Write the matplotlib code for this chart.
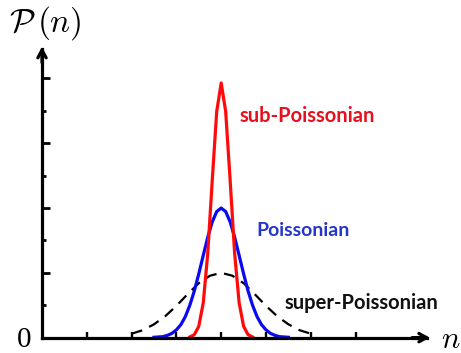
import matplotlib
matplotlib.use("Agg")
import matplotlib.pyplot as plt

plt.rcParams["mathtext.fontset"] = "cm"

# photon-number distributions around the same mean (n = 4)
sub_n = [3.3, 3.4, 3.5, 3.6, 3.7, 3.8, 3.9, 4.0, 4.1, 4.2, 4.3, 4.4, 4.5, 4.6, 4.7]
sub_p = [0.02, 0.09, 0.35, 1.08, 2.60, 4.85, 6.98, 7.86, 6.98, 4.85, 2.60, 1.08, 0.35, 0.09, 0.02]

poi_n = [2.5, 2.6, 2.7, 2.8, 2.9, 3.0, 3.1, 3.2, 3.3, 3.4, 3.5, 3.6, 3.7, 3.8, 3.9, 4.0,
         4.1, 4.2, 4.3, 4.4, 4.5, 4.6, 4.7, 4.8, 4.9, 5.0, 5.1, 5.2, 5.3, 5.4, 5.5]
poi_p = [0.01, 0.02, 0.03, 0.07, 0.13, 0.24, 0.40, 0.65, 1.00, 1.44, 1.97, 2.54, 3.10, 3.57, 3.89, 4.00,
         3.89, 3.57, 3.10, 2.54, 1.97, 1.44, 1.00, 0.65, 0.40, 0.24, 0.13, 0.07, 0.03, 0.02, 0.01]

sup_n = [2.0, 2.25, 2.5, 2.75, 3.0, 3.25, 3.5, 3.75, 4.0, 4.25, 4.5, 4.75, 5.0, 5.25, 5.5, 5.75, 6.0]
sup_p = [0.12, 0.23, 0.41, 0.66, 0.98, 1.34, 1.68, 1.91, 2.00, 1.91, 1.68, 1.34, 0.98, 0.66, 0.41, 0.23, 0.12]

x_ticks = [1, 2, 3, 4, 5, 6, 7]
y_major = [2, 4, 6, 8]
y_minor = [1, 3, 5, 7]

fig = plt.figure(figsize=(4.61, 3.53), dpi=100)
ax = fig.add_axes([0, 0, 1, 1])
ax.set_xlim(-0.9375, 9.353)
ax.set_ylim(-0.475, 10.42)

# axes through the origin with arrow heads
for side in ("top", "right"):
    ax.spines[side].set_visible(False)
ax.spines["left"].set_position(("data", 0))
ax.spines["bottom"].set_position(("data", 0))
ax.spines["left"].set_bounds(0, 8.9)
ax.spines["bottom"].set_bounds(0, 8.6)
ax.spines["left"].set_linewidth(2.3)
ax.spines["bottom"].set_linewidth(2.3)
ax.annotate("", xy=(8.72, 0), xytext=(8.2, 0),
            arrowprops=dict(arrowstyle="->,head_length=0.55,head_width=0.3", lw=2.3, color="black"))
ax.annotate("", xy=(0, 9.06), xytext=(0, 8.4),
            arrowprops=dict(arrowstyle="->,head_length=0.55,head_width=0.3", lw=2.3, color="black"))

ax.set_xticks(x_ticks)
ax.set_yticks(y_major)
ax.set_yticks(y_minor, minor=True)
ax.set_xticklabels([])
ax.set_yticklabels([])
ax.tick_params(axis="x", direction="in", length=4, width=1.7)
ax.tick_params(axis="y", which="major", direction="in", length=5.5, width=2)
ax.tick_params(axis="y", which="minor", direction="in", length=3, width=2)

ax.plot(sup_n, sup_p, color="black", lw=1.6, dashes=(5, 3.5))
ax.plot(poi_n, poi_p, color="#0a0af0", lw=2.3)
ax.plot(sub_n, sub_p, color="#ff0a0a", lw=2.3)

ax.text(4.4, 6.85, "sub-Poissonian", color="#e8101c", fontsize=14.5,
        family="Lato", weight="bold", va="center", ha="left")
ax.text(4.79, 3.3, "Poissonian", color="#2636c8", fontsize=14,
        family="Lato", weight="bold", va="center", ha="left")
ax.text(5.42, 1.06, "super-Poissonian", color="#111111", fontsize=14.5,
        family="Lato", weight="bold", va="center", ha="left")

ax.text(-0.74, 9.72, r"$\mathcal{P}\,(n)$", fontsize=24, va="center", ha="left")
ax.text(-0.40, -0.08, "0", fontsize=21, family="Liberation Serif", va="center", ha="center")
ax.text(9.12, -0.05, r"$n$", fontsize=22, va="center", ha="center")

fig.savefig("out.png", dpi=100)
